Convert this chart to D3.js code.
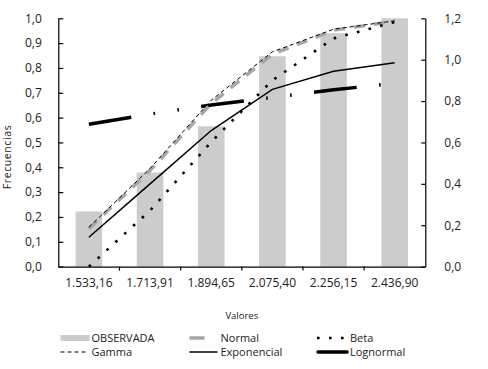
<!DOCTYPE html>
<html>
<head>
<meta charset="utf-8">
<script src="https://cdn.jsdelivr.net/npm/d3@7"></script>
<style>
  html, body { margin: 0; padding: 0; background: #fff; }
  svg { display: block; font-family: "Open Sans", "Noto Sans", sans-serif; }
  text { fill: #222; }
</style>
</head>
<body>
<svg id="chart" width="488" height="369"></svg>
<script>
// ---- data ----
const categories = ["1.533,16", "1.713,91", "1.894,65", "2.075,40", "2.256,15", "2.436,90"];
const observada   = [0.222, 0.379, 0.565, 0.847, 0.940, 1.000];
const normal      = [0.153, 0.387, 0.657, 0.855, 0.952, 0.988];
const gamma       = [0.158, 0.395, 0.670, 0.865, 0.956, 0.990];
const exponencial = [0.118, 0.333, 0.548, 0.714, 0.787, 0.821];
const beta        = [0.000, 0.226, 0.502, 0.750, 0.919, 0.985];
const lognormal   = [0.573, 0.614, 0.651, 0.681, 0.712, 0.738];
const leftTicks  = [0, 0.1, 0.2, 0.3, 0.4, 0.5, 0.6, 0.7, 0.8, 0.9, 1.0];
const rightTicks = [0, 0.2, 0.4, 0.6, 0.8, 1.0, 1.2];
const xTitle = "Valores";
const yTitle = "Frecuencias";

const svg = d3.select("#chart");
const L = 58.3, R = 425.3, T = 18.3, B = 266.6;

const x = d3.scaleBand().domain(categories).range([L, R]);
const yL = d3.scaleLinear().domain([0, 1]).range([B, T]);
const yR = d3.scaleLinear().domain([0, 1.2]).range([B, T]);
const fmt1 = d => d.toFixed(1).replace(".", ",");
const cx = i => x(categories[i]) + x.bandwidth() / 2;

// bars
const bw = x.bandwidth() * 0.435;
svg.append("g").selectAll("rect").data(observada).join("rect")
  .attr("x", (d, i) => cx(i) - bw / 2)
  .attr("y", d => yL(d))
  .attr("width", bw)
  .attr("height", d => B - yL(d))
  .attr("fill", "#cccccc");

// axes
const gl = svg.append("g").attr("transform", `translate(${L},0)`)
  .call(d3.axisLeft(yL).tickValues(leftTicks).tickFormat(fmt1).tickSizeInner(-5).tickSizeOuter(0).tickPadding(16.5));
const gr = svg.append("g").attr("transform", `translate(${R},0)`)
  .call(d3.axisRight(yR).tickValues(rightTicks).tickFormat(fmt1).tickSizeInner(-4).tickSizeOuter(0).tickPadding(19));
const gb = svg.append("g").attr("transform", `translate(0,${B})`)
  .call(d3.axisBottom(x).tickSize(0).tickPadding(12));
[gl, gr, gb].forEach(g => {
  g.selectAll("text").attr("font-size", 12).attr("fill", "#222").attr("font-family", "'Open Sans', sans-serif");
  g.selectAll("path, line").attr("stroke", "#000").attr("stroke-width", 1.2);
});
// category boundary ticks
svg.append("g").selectAll("line").data(categories.slice(1)).join("line")
  .attr("x1", d => x(d)).attr("x2", d => x(d))
  .attr("y1", B).attr("y2", B + 4)
  .attr("stroke", "#000").attr("stroke-width", 1.2);

// lines
const line = d3.line().x((d, i) => cx(i)).y(d => yL(d));
function drawLine(data, stroke, width, dash, cap) {
  svg.append("path").datum(data).attr("d", line)
    .attr("fill", "none").attr("stroke", stroke).attr("stroke-width", width)
    .attr("stroke-dasharray", dash).attr("stroke-linecap", cap || "butt");
}
drawLine(lognormal, "#000", 3.5, "43,22.5,1.6,22.5,1.6,22.5");
drawLine(normal, "#a6a6a6", 3.5, "11,9");
drawLine(gamma, "#000", 1, "4,3");
drawLine(exponencial, "#000", 1.5, null);
drawLine(beta, "#000", 2.6, "2.6,9.4");

// titles
svg.append("text").attr("x", (L + R) / 2).attr("y", 319)
  .attr("text-anchor", "middle").attr("font-size", 9.5).text(xTitle);
svg.append("text").attr("transform", "translate(11,157) rotate(-90)")
  .attr("text-anchor", "middle").attr("font-size", 10.5).attr("letter-spacing", 0.6).text(yTitle);

// legend
const lg = svg.append("g").attr("font-size", 11);
const items = [
  {name: "OBSERVADA", col: 0, row: 0, type: "bar"},
  {name: "Normal", col: 1, row: 0, type: "normal"},
  {name: "Beta", col: 2, row: 0, type: "beta"},
  {name: "Gamma", col: 0, row: 1, type: "gamma"},
  {name: "Exponencial", col: 1, row: 1, type: "exp"},
  {name: "Lognormal", col: 2, row: 1, type: "logn"}
];
const colX = [60.5, 189.5, 318];
const txtX = [91.5, 220.5, 350];
const rowY = [338, 352];
items.forEach(it => {
  const sx = colX[it.col], sy = rowY[it.row];
  if (it.type === "bar") {
    lg.append("rect").attr("x", sx).attr("y", sy - 3).attr("width", 29).attr("height", 6).attr("fill", "#cccccc");
  } else if (it.type === "normal") {
    lg.append("line").attr("x1", sx).attr("x2", sx + 15).attr("y1", sy).attr("y2", sy)
      .attr("stroke", "#a6a6a6").attr("stroke-width", 3.5);
  } else if (it.type === "beta") {
    lg.append("line").attr("x1", sx - 1).attr("x2", sx + 26).attr("y1", sy).attr("y2", sy)
      .attr("stroke", "#000").attr("stroke-width", 2.6).attr("stroke-dasharray", "2.6,9.4");
  } else if (it.type === "gamma") {
    lg.append("line").attr("x1", sx).attr("x2", sx + 28).attr("y1", sy).attr("y2", sy)
      .attr("stroke", "#000").attr("stroke-width", 1).attr("stroke-dasharray", "4,3");
  } else if (it.type === "exp") {
    lg.append("line").attr("x1", sx).attr("x2", sx + 28).attr("y1", sy).attr("y2", sy)
      .attr("stroke", "#000").attr("stroke-width", 1.5);
  } else {
    lg.append("line").attr("x1", sx).attr("x2", sx + 29).attr("y1", sy).attr("y2", sy)
      .attr("stroke", "#000").attr("stroke-width", 3.5).attr("stroke-linecap", "round");
  }
  lg.append("text").attr("x", txtX[it.col]).attr("y", sy + 4).text(it.name);
});
</script>
</body>
</html>
